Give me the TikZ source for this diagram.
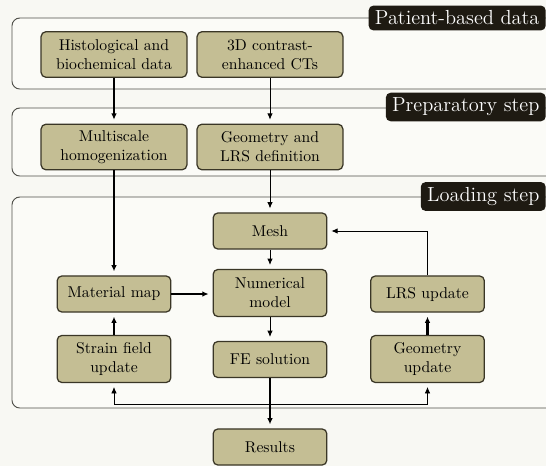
\documentclass[tikz,border=0pt]{standalone}
\usepackage{tikz}
\usetikzlibrary{arrows.meta, positioning, calc}
\definecolor{boxolive}  {RGB}{196, 190, 148}
\definecolor{boxedge}   {RGB}{ 58,  54,  38}
\definecolor{panelfill} {RGB}{251, 251, 247}
\definecolor{paneledge} {RGB}{ 80,  80,  74}
\definecolor{tagfill}   {RGB}{ 30,  26,  18}
\definecolor{bgpaper}   {RGB}{248, 248, 243}

\begin{document}
\begin{tikzpicture}[x=0.638pt, y=-0.638pt,
	stage/.style={draw=boxedge, thick, fill=boxolive, rounded corners=3pt, align=center, inner sep=2pt},
	widebox/.style={stage, minimum width=93pt, minimum height=29pt},
	smallbox/.style={stage, minimum width=72.5pt, minimum height=23pt},
	tallbox/.style={stage, minimum width=72.5pt, minimum height=30pt},
	panel/.style={draw=paneledge, semithick, fill=panelfill, rounded corners=5pt},
	tag/.style={fill=tagfill, text=white, rounded corners=3pt, font=\fontsize{13}{15}\selectfont, anchor=east, minimum height=15.5pt, inner xsep=4pt},
	flow/.style={-{Latex[length=4pt,width=3.5pt]}, semithick, shorten >=2.5pt},
	bold/.style={flow, line width=1.3pt},
	loop/.style={flow, thin}]
	\useasboundingbox (0,0) rectangle (546,466);
	\fill[bgpaper] (0,0) rectangle (546,466);

	% panels
	\draw[panel] (546,18) -| (12,89) -- (546,89);
	\draw[panel] (546,108) -| (12,176) -- (546,176);
	\draw[panel] (546,197) -| (12,408) -- (546,408);
	\node[tag] (patienttag) at (546,18) {Patient-based data};
	\node[tag] (preptag) at (546,107) {Preparatory step};
	\node[tag] (loadtag) at (546,196.5) {Loading step};

	% boxes
	\node[widebox] (histo) at (114,54.5) {Histological and\\biochemical data};
	\node[widebox] (ct) at (270,54.5) {3D contrast-\\enhanced CTs};
	\node[widebox] (homog) at (114,147) {Multiscale\\homogenization};
	\node[widebox] (geodef) at (270,147) {Geometry and\\LRS definition};
	\node[smallbox] (mesh) at (270,231) {Mesh};
	\node[tallbox] (nummodel) at (270,293) {Numerical\\model};
	\node[smallbox] (matmap) at (114,294) {Material map};
	\node[smallbox] (lrsupd) at (427.5,294) {LRS update};
	\node[tallbox] (strain) at (114,359) {Strain field\\update};
	\node[smallbox] (fesol) at (270,359.5) {FE solution};
	\node[tallbox] (geoupd) at (427.5,359) {Geometry\\update};
	\node[smallbox] (results) at (270,447) {Results};

	% arrows
	\draw[bold] (histo) -- (homog);
	\draw[flow] (ct) -- (geodef);
	\draw[bold] (homog) -- (matmap);
	\draw[flow] (geodef) -- (mesh);
	\draw[flow] (mesh) -- (nummodel);
	\draw[bold] (matmap.east) -- (matmap.east -| nummodel.west);
	\draw[flow] (nummodel) -- (fesol);
	\draw[bold] (fesol) -- (results);
	\draw[bold] (strain) -- (matmap);
	\draw[bold] (geoupd) -- (lrsupd);
	\draw[flow] (lrsupd.north) |- (mesh.east);
	\coordinate (split) at (270,404);
	\draw[loop] (split) -| (strain.south);
	\draw[loop] (split) -| (geoupd.south);
\end{tikzpicture}
\end{document}
